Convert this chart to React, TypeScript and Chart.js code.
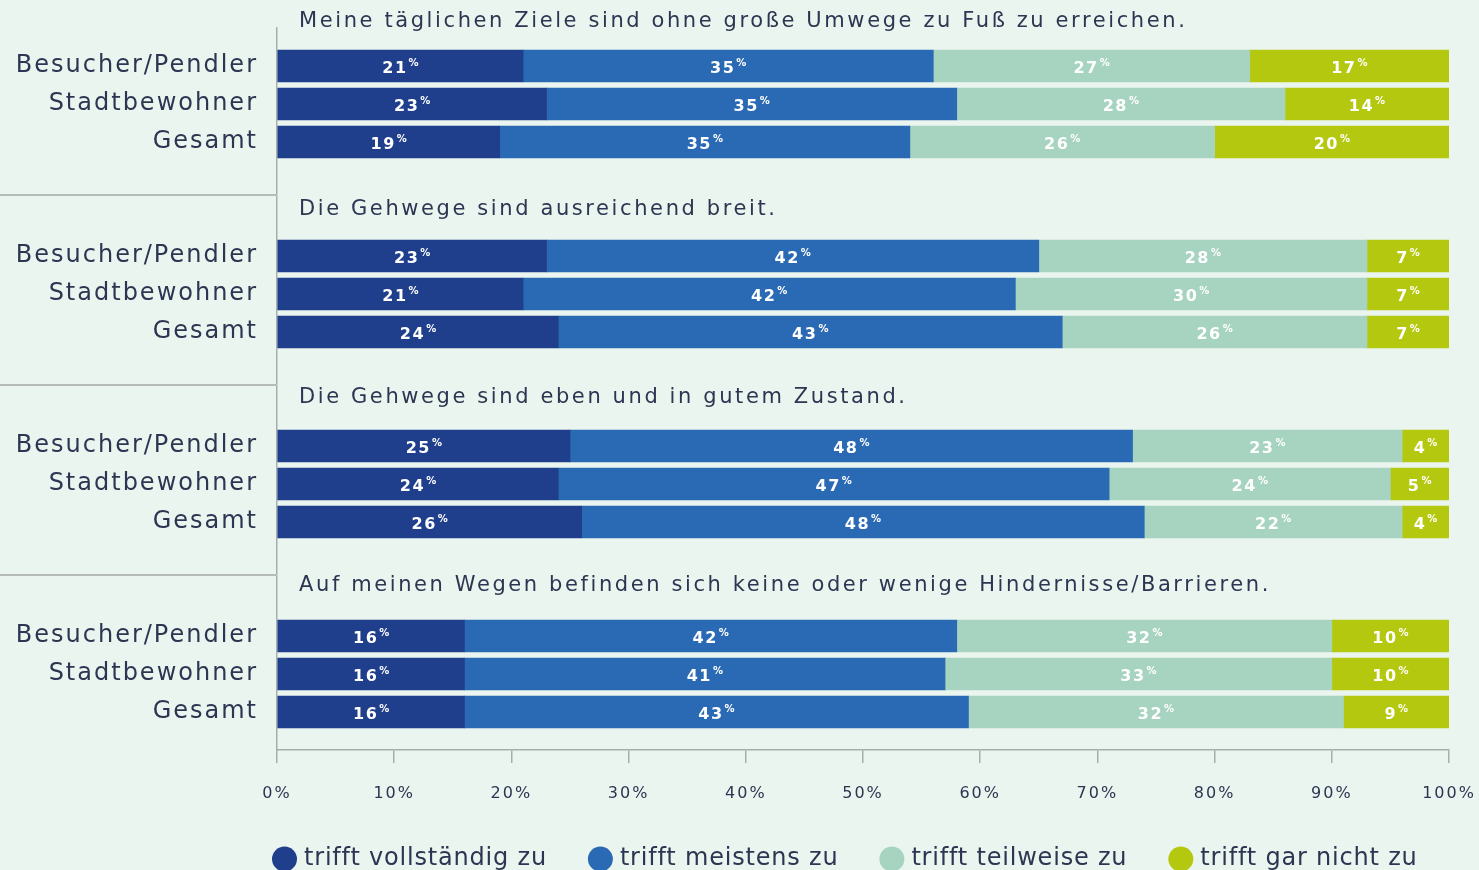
import React, { useEffect, useRef } from "react";
import { Chart, registerables } from "chart.js";

Chart.register(...registerables);

// ---------- data ----------
const groupTitles = [
  "Meine täglichen Ziele sind ohne große Umwege zu Fuß zu erreichen.",
  "Die Gehwege sind ausreichend breit.",
  "Die Gehwege sind eben und in gutem Zustand.",
  "Auf meinen Wegen befinden sich keine oder wenige Hindernisse/Barrieren.",
];
const rowNames = ["Besucher/Pendler", "Stadtbewohner", "Gesamt"];
const seriesNames = [
  "trifft vollständig zu",
  "trifft meistens zu",
  "trifft teilweise zu",
  "trifft gar nicht zu",
];
// values per group (rows: Besucher/Pendler, Stadtbewohner, Gesamt)
const vollstaendig = [
  [21, 23, 19],
  [23, 21, 24],
  [25, 24, 26],
  [16, 16, 16],
];
const meistens = [
  [35, 35, 35],
  [42, 42, 43],
  [48, 47, 48],
  [42, 41, 43],
];
const teilweise = [
  [27, 28, 26],
  [28, 30, 26],
  [23, 24, 22],
  [32, 33, 32],
];
const garNicht = [
  [17, 14, 20],
  [7, 7, 7],
  [4, 5, 4],
  [10, 10, 9],
];
const xTickValues = [0, 10, 20, 30, 40, 50, 60, 70, 80, 90, 100];

// ---------- styles ----------
const seriesColors = ["#1f3e8c", "#2a6ab4", "#a6d4c0", "#b4c80f"];
const textColor = "#2c3652";
const lineColor = "#a7aeab";
const bgColor = "#ebf5ef";
const FONT = "'DejaVu Sans', sans-serif";

// ---------- build rows ----------
const seriesValues = [vollstaendig, meistens, teilweise, garNicht];
const labels: string[] = [];
const titleRows: number[] = [];
const datasetValues: (number | null)[][] = seriesValues.map(() => []);
groupTitles.forEach((_t, g) => {
  if (g > 0) {
    labels.push("");
    datasetValues.forEach((d) => d.push(null));
  }
  titleRows.push(labels.length);
  labels.push("");
  datasetValues.forEach((d) => d.push(null));
  rowNames.forEach((name, r) => {
    labels.push(name);
    seriesValues.forEach((s, k) => datasetValues[k].push(s[g][r]));
  });
});
labels.push("");
datasetValues.forEach((d) => d.push(null));

const overlayPlugin = {
  id: "overlay",
  beforeDraw(chart: any) {
    chart.ctx.letterSpacing = "2px";
  },
  afterDatasetsDraw(chart: any) {
    const ctx = chart.ctx as CanvasRenderingContext2D;
    ctx.save();
    chart.data.datasets.forEach((ds: any, di: number) => {
      const meta = chart.getDatasetMeta(di);
      meta.data.forEach((el: any, i: number) => {
        const v = ds.data[i];
        if (v === null || v === undefined) return;
        const p = el.getProps(["x", "base", "y"], true);
        const cx = (p.x + p.base) / 2;
        const num = String(v);
        ctx.font = `bold 16px ${FONT}`;
        (ctx as any).letterSpacing = "1.5px";
        const w1 = ctx.measureText(num).width;
        ctx.font = `bold 10px ${FONT}`;
        (ctx as any).letterSpacing = "0px";
        const w2 = ctx.measureText("%").width;
        const gap = 1;
        const start = cx - (w1 + gap + w2) / 2;
        ctx.fillStyle = "#ffffff";
        ctx.textAlign = "left";
        ctx.textBaseline = "alphabetic";
        ctx.font = `bold 16px ${FONT}`;
        (ctx as any).letterSpacing = "1.5px";
        ctx.fillText(num, start, p.y + 6.5);
        ctx.font = `bold 10px ${FONT}`;
        (ctx as any).letterSpacing = "0px";
        ctx.fillText("%", start + w1 + gap, p.y - 0.5);
      });
    });
    ctx.restore();
  },
  afterDraw(chart: any) {
    const ctx = chart.ctx as CanvasRenderingContext2D;
    const yScale = chart.scales.y;
    const area = chart.chartArea;
    ctx.save();
    // group titles and separators
    titleRows.forEach((row, g) => {
      const py = yScale.getPixelForValue(row);
      ctx.font = `21px ${FONT}`;
      (ctx as any).letterSpacing = "2.6px";
      ctx.fillStyle = textColor;
      ctx.textAlign = "left";
      ctx.textBaseline = "middle";
      ctx.fillText(groupTitles[g], area.left + 22, py - 6 - g * 2);
      if (g > 0) {
        ctx.strokeStyle = "#b5bcb9";
        ctx.lineWidth = 2;
        ctx.beginPath();
        ctx.moveTo(0, Math.round(py - 23));
        ctx.lineTo(area.left, Math.round(py - 23));
        ctx.stroke();
      }
    });
    // legend
    ctx.font = `24px ${FONT}`;
    (ctx as any).letterSpacing = "0.8px";
    ctx.textBaseline = "middle";
    let x = area.left - 5;
    const ly = 859;
    seriesNames.forEach((name, k) => {
      ctx.fillStyle = seriesColors[k];
      ctx.beginPath();
      ctx.arc(x + 12.5, ly, 12.5, 0, Math.PI * 2);
      ctx.fill();
      ctx.fillStyle = textColor;
      ctx.textAlign = "left";
      ctx.fillText(name, x + 32, ly);
      x += 32 + ctx.measureText(name).width + 41;
    });
    ctx.restore();
  },
};

export default function App() {
  const canvasRef = useRef<HTMLCanvasElement | null>(null);

  useEffect(() => {
    const canvas = canvasRef.current;
    if (!canvas) return;
    const chart = new Chart(canvas, {
      type: "bar",
      data: {
        labels,
        datasets: seriesNames.map((name, k) => ({
          label: name,
          data: datasetValues[k],
          backgroundColor: seriesColors[k],
          borderWidth: 0,
          barThickness: 32,
        })),
      },
      options: {
        indexAxis: "y",
        animation: false,
        responsive: true,
        maintainAspectRatio: false,
        layout: { padding: { top: 28, right: 30, bottom: 70, left: 0 } },
        plugins: {
          legend: { display: false },
          tooltip: { enabled: false },
        },
        scales: {
          x: {
            stacked: true,
            min: 0,
            max: 100,
            afterBuildTicks: (scale: any) => {
              scale.ticks = xTickValues.map((v) => ({ value: v }));
            },
            afterFit: (scale: any) => {
              scale.height = 50;
              scale.paddingLeft = 0;
              scale.paddingRight = 0;
            },
            ticks: {
              callback: (v: any) => `${v}%`,
              color: textColor,
              font: { family: FONT, size: 16 },
              padding: 21,
              maxRotation: 0,
            },
            grid: {
              drawOnChartArea: false,
              drawTicks: true,
              tickLength: 13,
              color: lineColor,
              lineWidth: 1.5,
            },
            border: { display: true, color: lineColor, width: 1.5 },
          },
          y: {
            stacked: true,
            offset: false,
            afterFit: (scale: any) => {
              scale.width = 277;
              scale.paddingTop = 0;
              scale.paddingBottom = 0;
            },
            ticks: {
              autoSkip: false,
              color: textColor,
              font: { family: FONT, size: 24 },
              padding: 19,
            },
            grid: { display: false, drawTicks: false },
            border: { display: true, color: lineColor, width: 1.5 },
          },
        },
      },
      plugins: [overlayPlugin],
    } as any);
    return () => chart.destroy();
  }, []);

  return (
    <div
      style={{
        position: "fixed",
        left: 0,
        top: 0,
        width: 1479,
        height: 870,
        background: bgColor,
      }}
    >
      <canvas ref={canvasRef} />
    </div>
  );
}
